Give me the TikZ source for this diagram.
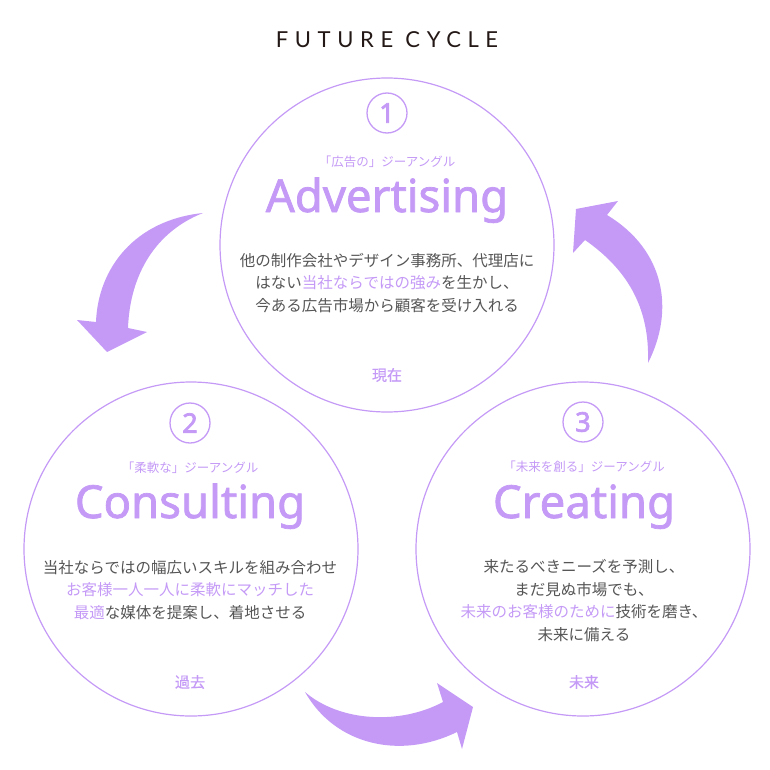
\documentclass[tikz,border=0pt]{standalone}
\usepackage{fontspec}
\newfontfamily\jp{Noto Sans CJK JP}
\newfontfamily\jpb{Noto Sans CJK JP}[FakeBold=0.6]
\newfontfamily\hd{Noto Sans}[FakeBold=1.6]
\newfontfamily\hdn{Noto Sans}[FakeBold=2.8]
\newfontfamily\ttl{Lato}[LetterSpace=30]
\definecolor{pur}{HTML}{C49AF6}
\definecolor{gry}{HTML}{555555}
\definecolor{ttlc}{HTML}{231815}
\begin{document}
\begin{tikzpicture}[x=1pt,y=-1pt,
  ring/.style={draw=pur, line width=1.2pt, circle, minimum size=334pt, inner sep=0pt},
  numc/.style={draw=pur, line width=1.3pt, circle, minimum size=40pt, inner sep=0pt, text=pur, font=\hdn\fontsize{27}{27}\selectfont},
  subt/.style={text=pur, font=\jp\fontsize{12.5}{14}\selectfont},
  headt/.style={text=pur, font=\hd\fontsize{45.5}{45.5}\selectfont, anchor=base},
  bodyt/.style={text=gry, font=\jp\fontsize{15.5}{22.7}\selectfont, align=center},
  labt/.style={text=pur, font=\jpb\fontsize{15}{15}\selectfont},
  arr/.style={fill=pur, draw=none}]
\useasboundingbox (0,0) rectangle (770,770);
\node[text=ttlc, font=\ttl\fontsize{22}{22}\selectfont] (title) at (387,40) {FUTURE CYCLE};
% circles
\node[ring] (c1) at (387,245) {};
\node[ring] (c2) at (191,549) {};
\node[ring] (c3) at (583,549) {};
% top
\node[numc] (n1) at (387,113) {1};
\node[subt] (s1) at (387,162) {「広告の」ジーアングル};
\node[headt] (h1) at (387,212) {Advertising};
\node[bodyt] (b1) at (387,283) {他の制作会社やデザイン事務所、代理店に\\はない\textcolor{pur}{当社ならではの強み}を生かし、\\今ある広告市場から顧客を受け入れる};
\node[labt] (l1) at (387,375) {現在};
% left
\node[numc] (n2) at (190,423) {2};
\node[subt] (s2) at (190,468) {「柔軟な」ジーアングル};
\node[headt] (h2) at (190,518) {Consulting};
\node[bodyt] (b2) at (190,590) {当社ならではの幅広いスキルを組み合わせ\\\textcolor{pur}{お客様一人一人に柔軟にマッチした}\\\textcolor{pur}{最適}な媒体を提案し、着地させる};
\node[labt] (l2) at (190,682) {過去};
% right
\node[numc] (n3) at (583,422) {3};
\node[subt] (s3) at (584,467) {「未来を創る」ジーアングル};
\node[headt] (h3) at (584,518) {Creating};
\node[bodyt] (b3) at (584,600.5) {来たるべきニーズを予測し、\\まだ見ぬ市場でも、\\\textcolor{pur}{未来のお客様のために}技術を磨き、\\未来に備える};
\node[labt] (l3) at (584,682) {未来};
% arrows
\fill[arr] (203,213) .. controls (135,220) and (98,268) .. (96,322)
  -- (77,320) -- (107,352) -- (147,332) -- (128,328)
  .. controls (130,275) and (155,232) .. (203,213) -- cycle;
\fill[arr] (648,363) .. controls (675,310) and (665,250) .. (607,215)
  -- (618,201) -- (576,209) -- (573,253) -- (585,240)
  .. controls (625,268) and (650,305) .. (648,363) -- cycle;
\fill[arr] (305,692) .. controls (340,722) and (400,725) .. (443,702)
  -- (437,683) -- (473,707) -- (462,749) -- (457,732)
  .. controls (400,760) and (335,745) .. (305,692) -- cycle;
\end{tikzpicture}
\end{document}
